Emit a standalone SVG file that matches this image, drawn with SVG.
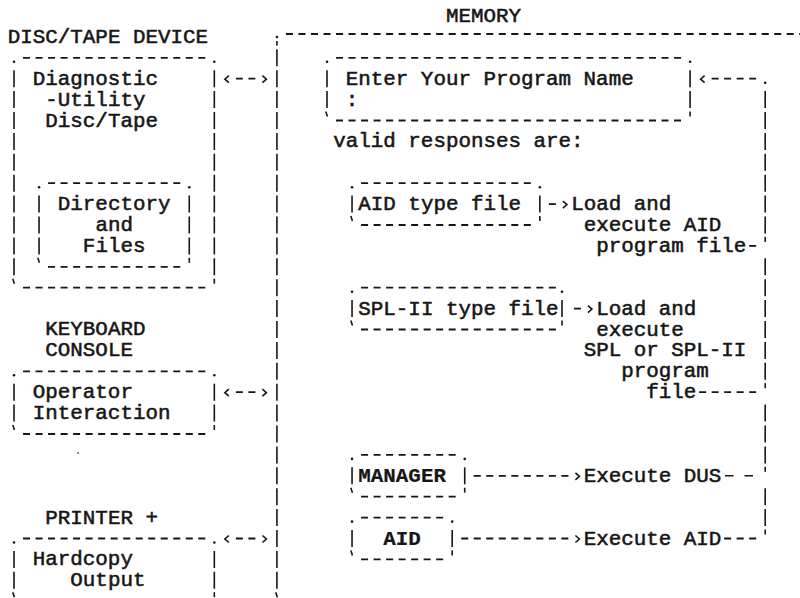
<svg xmlns="http://www.w3.org/2000/svg" xmlns:xlink="http://www.w3.org/1999/xlink" width="800" height="598" viewBox="0 0 800 598">
<style>
.t{font-family:"Liberation Mono","Courier New",monospace;font-size:20.87px;fill:#161616;stroke:#161616;stroke-width:0.55}
.b{font-weight:bold;stroke-width:0.2}
.h{stroke:#161616;stroke-width:1.8;stroke-dasharray:7 5.52;fill:none}
.v{stroke:#161616;stroke-width:1.6;stroke-dasharray:17 3.9;fill:none}
.k{stroke:#161616;stroke-width:1.6;fill:none}
.d{fill:#161616}
</style>
<defs>
<circle id="dot" r="1.3"/>
<path id="tr" d="M0,-9 L0,-4"/>
<path id="tl" d="M-1.2,-9 L0.4,-4"/>
<path id="ar" d="M-2,-3 L2,0.5 L-2,4"/>
<path id="al" d="M2,-3 L-2,0.5 L2,4"/>
</defs>
<rect width="800" height="598" fill="#fff"/>

<g id="disc-device">
<text class="t" x="7.74" y="42.9">DISC/TAPE DEVICE</text>
<line class="h" x1="23.02" y1="57.8" x2="205.3" y2="57.8"/>
<line class="h" x1="23.02" y1="287.7" x2="205.3" y2="287.7"/>
<line class="v" x1="14" y1="70.2" x2="14" y2="275.3"/>
<line class="v" x1="214.32" y1="70.2" x2="214.32" y2="275.3"/>
<use href="#dot" class="d" x="14" y="61.8"/><use href="#dot" class="d" x="214.32" y="61.8"/>
<use href="#tl" class="k" x="14" y="287.7"/><use href="#tr" class="k" x="214.32" y="287.7"/>
<text class="t" x="32.78" y="84.7">Diagnostic</text>
<text class="t" x="45.3" y="105.6">-Utility</text>
<text class="t" x="45.3" y="126.5">Disc/Tape</text>
</g>

<g id="directory-files">
<line class="h" x1="48.06" y1="183.2" x2="180.26" y2="183.2"/>
<line class="h" x1="48.06" y1="266.8" x2="180.26" y2="266.8"/>
<line class="v" x1="39.04" y1="195.6" x2="39.04" y2="254.4"/>
<line class="v" x1="189.28" y1="195.6" x2="189.28" y2="254.4"/>
<use href="#dot" class="d" x="39.04" y="187.2"/><use href="#dot" class="d" x="189.28" y="187.2"/>
<use href="#tl" class="k" x="39.04" y="266.8"/><use href="#tr" class="k" x="189.28" y="266.8"/>
<text class="t" x="57.82" y="210.1">Directory</text>
<text class="t" x="95.38" y="231">and</text>
<text class="t" x="82.86" y="251.9">Files</text>
</g>

<g id="keyboard-console">
<text class="t" x="45.3" y="335">KEYBOARD</text>
<text class="t" x="45.3" y="356">CONSOLE</text>
<line class="h" x1="23.02" y1="371.3" x2="205.3" y2="371.3"/>
<line class="h" x1="23.02" y1="434" x2="205.3" y2="434"/>
<line class="v" x1="14" y1="383.7" x2="14" y2="421.6"/>
<line class="v" x1="214.32" y1="383.7" x2="214.32" y2="421.6"/>
<use href="#dot" class="d" x="14" y="375.3"/><use href="#dot" class="d" x="214.32" y="375.3"/>
<use href="#tl" class="k" x="14" y="434"/><use href="#tr" class="k" x="214.32" y="434"/>
<text class="t" x="32.78" y="398.2">Operator</text>
<text class="t" x="32.78" y="419.1">Interaction</text>
</g>

<circle cx="78" cy="453" r="0.9" fill="#555"/>

<g id="printer">
<text class="t" x="45.3" y="523.6">PRINTER +</text>
<line class="h" x1="23.02" y1="538.5" x2="205.3" y2="538.5"/>
<line class="v" x1="14" y1="550.9" x2="14" y2="588.8"/>
<line class="v" x1="214.32" y1="550.9" x2="214.32" y2="588.8"/>
<use href="#dot" class="d" x="14" y="542.5"/><use href="#dot" class="d" x="214.32" y="542.5"/>
<use href="#tl" class="k" x="14" y="601.2"/><use href="#tr" class="k" x="214.32" y="601.2"/>
<text class="t" x="32.78" y="565.4">Hardcopy</text>
<text class="t" x="70.34" y="586.3">Output</text>
</g>

<g id="memory">
<text class="t" x="445.94" y="22">MEMORY</text>
<line class="h" x1="285.94" y1="34" x2="800" y2="34"/>
<use href="#dot" class="d" x="276.92" y="37"/>
<line class="k" x1="276.92" y1="41" x2="276.92" y2="45.4"/>
<line class="v" x1="276.92" y1="49.3" x2="276.92" y2="588.8"/>
<use href="#tl" class="k" x="276.92" y="601.2"/>
<text class="t" x="333.26" y="147.4">valid responses are:</text>
</g>

<g id="enter-program-name">
<line class="h" x1="336.02" y1="57.8" x2="681.06" y2="57.8"/>
<line class="h" x1="336.02" y1="120.5" x2="681.06" y2="120.5"/>
<line class="v" x1="327" y1="70.2" x2="327" y2="108.1"/>
<line class="v" x1="690.08" y1="70.2" x2="690.08" y2="108.1"/>
<use href="#dot" class="d" x="327" y="61.8"/><use href="#dot" class="d" x="690.08" y="61.8"/>
<use href="#tl" class="k" x="327" y="120.5"/><use href="#tr" class="k" x="690.08" y="120.5"/>
<text class="t" x="345.78" y="84.7">Enter Your Program Name</text>
<text class="t" x="345.78" y="105.6">:</text>
</g>

<g id="aid-type-file">
<line class="h" x1="361.06" y1="183.2" x2="530.82" y2="183.2"/>
<line class="h" x1="361.06" y1="225" x2="530.82" y2="225"/>
<line class="v" x1="352.04" y1="195.6" x2="352.04" y2="212.6"/>
<line class="v" x1="539.84" y1="195.6" x2="539.84" y2="212.6"/>
<use href="#dot" class="d" x="352.04" y="187.2"/><use href="#dot" class="d" x="539.84" y="187.2"/>
<use href="#tl" class="k" x="352.04" y="225"/><use href="#tr" class="k" x="539.84" y="225"/>
<text class="t" x="358.3" y="210.1">AID type file</text>
</g>

<g id="load-aid">
<text class="t" x="571.14" y="210.1">Load and</text>
<text class="t" x="583.66" y="231">execute AID</text>
<text class="t" x="596.18" y="251.9">program file</text>
</g>

<g id="spl-type-file">
<line class="h" x1="361.06" y1="287.7" x2="555.86" y2="287.7"/>
<line class="h" x1="361.06" y1="329.5" x2="555.86" y2="329.5"/>
<line class="v" x1="352.04" y1="300.1" x2="352.04" y2="317.1"/>
<line class="v" x1="562" y1="300.1" x2="562" y2="317.1"/>
<use href="#dot" class="d" x="352.04" y="291.7"/><use href="#dot" class="d" x="562" y="291.7"/>
<use href="#tl" class="k" x="352.04" y="329.5"/><use href="#tr" class="k" x="562" y="329.5"/>
<text class="t" x="358.3" y="314.6">SPL-II type file</text>
</g>

<g id="load-spl">
<text class="t" x="596.18" y="314.6">Load and</text>
<text class="t" x="596.18" y="335.5">execute</text>
<text class="t" x="583.66" y="356.4">SPL or SPL-II</text>
<text class="t" x="621.22" y="377.3">program</text>
<text class="t" x="646.26" y="398.2">file</text>
</g>

<g id="manager">
<line class="h" x1="361.06" y1="454.9" x2="455.7" y2="454.9"/>
<line class="h" x1="361.06" y1="496.7" x2="455.7" y2="496.7"/>
<line class="v" x1="352.04" y1="467.3" x2="352.04" y2="484.3"/>
<line class="v" x1="464.72" y1="467.3" x2="464.72" y2="484.3"/>
<use href="#dot" class="d" x="352.04" y="458.9"/><use href="#dot" class="d" x="464.72" y="458.9"/>
<use href="#tl" class="k" x="352.04" y="496.7"/><use href="#tr" class="k" x="464.72" y="496.7"/>
<text class="t b" x="358.3" y="481.8">MANAGER</text>
</g>

<g id="execute-dus">
<text class="t" x="583.66" y="481.8">Execute DUS</text>
</g>

<g id="aid">
<line class="h" x1="361.06" y1="517.6" x2="443.18" y2="517.6"/>
<line class="h" x1="361.06" y1="559.4" x2="443.18" y2="559.4"/>
<line class="v" x1="352.04" y1="530" x2="352.04" y2="547"/>
<line class="v" x1="452.2" y1="530" x2="452.2" y2="547"/>
<use href="#dot" class="d" x="352.04" y="521.6"/><use href="#dot" class="d" x="452.2" y="521.6"/>
<use href="#tl" class="k" x="352.04" y="559.4"/><use href="#tr" class="k" x="452.2" y="559.4"/>
<text class="t b" x="383.34" y="544.5">AID</text>
</g>

<g id="execute-aid">
<text class="t" x="583.66" y="544.5">Execute AID</text>
</g>

<g id="connectors">
<use href="#al" class="k" x="226.84" y="78.7"/><line class="h" x1="235.86" y1="78.7" x2="255.38" y2="78.7"/><use href="#ar" class="k" x="264.4" y="78.7"/>
<use href="#al" class="k" x="226.84" y="392.2"/><line class="h" x1="235.86" y1="392.2" x2="255.38" y2="392.2"/><use href="#ar" class="k" x="264.4" y="392.2"/>
<use href="#al" class="k" x="226.84" y="538.5"/><line class="h" x1="235.86" y1="538.5" x2="255.38" y2="538.5"/><use href="#ar" class="k" x="264.4" y="538.5"/>
<use href="#al" class="k" x="702.6" y="78.7"/><line class="h" x1="711.62" y1="78.7" x2="756.18" y2="78.7"/>
<use href="#dot" class="d" x="765.2" y="82.7"/>
<line class="v" x1="765.2" y1="91.1" x2="765.2" y2="233.5"/>
<use href="#tr" class="k" x="765.2" y="245.9"/>
<line class="v" x1="765.2" y1="258.3" x2="765.2" y2="379.8"/>
<use href="#tr" class="k" x="765.2" y="392.2"/>
<line class="v" x1="765.2" y1="404.6" x2="765.2" y2="463.4"/>
<use href="#tr" class="k" x="765.2" y="475.8"/>
<line class="v" x1="765.2" y1="488.2" x2="765.2" y2="526.1"/>
<use href="#tr" class="k" x="765.2" y="538.5"/>
<line class="h" x1="548.86" y1="204.1" x2="555.86" y2="204.1"/><use href="#ar" class="k" x="564.88" y="204.1"/>
<line class="h" x1="749.18" y1="245.9" x2="756.18" y2="245.9"/>
<line class="h" x1="573.9" y1="308.6" x2="580.9" y2="308.6"/><use href="#ar" class="k" x="589.92" y="308.6"/>
<line class="h" x1="699.1" y1="392.2" x2="756.18" y2="392.2"/>
<line class="h" x1="473.74" y1="475.8" x2="568.38" y2="475.8"/><use href="#ar" class="k" x="577.4" y="475.8"/>
<line class="k" x1="725" y1="475.8" x2="753" y2="475.8" stroke-width="1.8" stroke-dasharray="8.5 11"/>
<line class="h" x1="461.22" y1="538.5" x2="568.38" y2="538.5"/><use href="#ar" class="k" x="577.4" y="538.5"/>
<line class="h" x1="724.14" y1="538.5" x2="756.18" y2="538.5"/>
</g>
</svg>
